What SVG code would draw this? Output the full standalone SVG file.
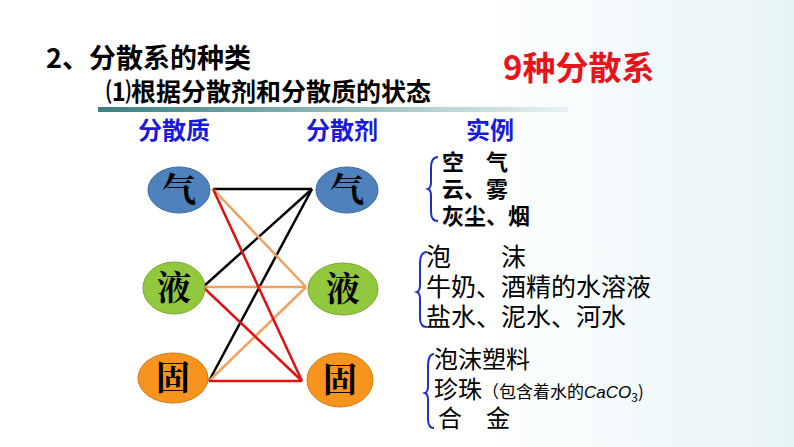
<svg xmlns="http://www.w3.org/2000/svg" width="794" height="447" viewBox="0 0 794 447">
<style>
text{font-family:"Noto Sans CJK SC","Liberation Sans",sans-serif}
.b{font-weight:bold}
.h{fill:#1a1adc;font-weight:bold;font-size:24px}
.n{font-size:34px;font-family:"Noto Serif CJK SC","Noto Sans CJK SC",serif;font-weight:bold}
.br{fill:none;stroke:#2030c0;stroke-width:2}
.c line{stroke-width:2.5}
</style>
<defs><linearGradient id="g" x1="0" x2="1"><stop offset="0" stop-color="#3a7f80"/><stop offset="1" stop-color="#e8f2f2"/></linearGradient>
<linearGradient id="bg" x1="0" x2="1"><stop offset="0.6" stop-color="#fff"/><stop offset="1" stop-color="#e6f4f6"/></linearGradient></defs>
<rect width="794" height="447" fill="url(#bg)"/>
<text x="46" y="68" class="b" font-size="27">2、分散系的种类</text>
<text x="106" y="101" class="b" font-size="25">⑴根据分散剂和分散质的状态</text>
<rect x="98" y="107" width="470" height="5" fill="url(#g)"/>
<text x="503" y="80" class="b" font-size="33" fill="#e8141c">9种分散系</text>
<text x="138" y="139" class="h">分散质</text>
<text x="306" y="139" class="h">分散剂</text>
<text x="466" y="139" class="h">实例</text>
<g class="c" id="connectors">
<line x1="213" y1="189" x2="312" y2="189" stroke="#000"/>
<line x1="203" y1="287" x2="312" y2="189" stroke="#000"/>
<line x1="209" y1="381" x2="312" y2="189" stroke="#000"/>
<line x1="213" y1="189" x2="306" y2="287" stroke="#f0a060"/>
<line x1="203" y1="287" x2="306" y2="287" stroke="#f0a060"/>
<line x1="209" y1="381" x2="306" y2="287" stroke="#f0a060"/>
<line x1="213" y1="189" x2="302" y2="381" stroke="#e01010"/>
<line x1="203" y1="287" x2="302" y2="381" stroke="#e01010"/>
<line x1="209" y1="381" x2="302" y2="381" stroke="#e01010"/>
</g>
<g id="l-gas"><ellipse cx="179" cy="190" rx="31" ry="23" fill="#4f81bd" stroke="#3a6a9e"/><text x="179" y="202" class="n" text-anchor="middle">气</text></g>
<g id="l-liq"><ellipse cx="174" cy="288" rx="31" ry="26" fill="#92c83e" stroke="#7aa830"/><text x="174" y="300" class="n" text-anchor="middle">液</text></g>
<g id="l-sol"><ellipse cx="173" cy="378" rx="35" ry="25" fill="#f7941d" stroke="#d07810"/><text x="173" y="390" class="n" text-anchor="middle">固</text></g>
<g id="r-gas"><ellipse cx="347" cy="190" rx="31" ry="23" fill="#4f81bd" stroke="#3a6a9e"/><text x="347" y="202" class="n" text-anchor="middle">气</text></g>
<g id="r-liq"><ellipse cx="343" cy="289" rx="35" ry="26" fill="#92c83e" stroke="#7aa830"/><text x="343" y="301" class="n" text-anchor="middle">液</text></g>
<g id="r-sol"><ellipse cx="340" cy="380" rx="33" ry="27" fill="#f7941d" stroke="#d07810"/><text x="340" y="392" class="n" text-anchor="middle">固</text></g>
<g id="ex1" class="b">
<path class="br" d="M438,157 Q431,157 431,168 L431,182 Q431,188 428,189 Q431,190 431,196 L431,212 Q431,221 438,221"/>
<text x="442" y="170" font-size="22">空　气</text>
<text x="442" y="197" font-size="22">云、雾</text>
<text x="442" y="224" font-size="22">灰尘、烟</text>
</g>
<g id="ex2">
<path class="br" d="M427,252 Q420,252 420,264 L420,285 Q420,291 417,292 Q420,293 420,299 L420,318 Q420,327 427,327"/>
<text x="426" y="266" font-size="25">泡　　沫</text>
<text x="426" y="296" font-size="25">牛奶、酒精的水溶液</text>
<text x="426" y="326" font-size="25">盐水、泥水、河水</text>
</g>
<g id="ex3">
<path class="br" d="M434,354 Q428,354 428,367 L428,386 Q428,392 425,393 Q428,394 428,400 L428,419 Q428,428 434,428"/>
<text x="434" y="368" font-size="24">泡沫塑料</text>
<text x="434" y="398" font-size="24">珍珠<tspan font-size="17">（包含着水的<tspan font-style="italic" font-family="Liberation Sans">CaCO</tspan><tspan font-size="12" dy="4">3</tspan><tspan dy="-4">)</tspan></tspan></text>
<text x="438" y="427" font-size="24">合　金</text>
</g>
</svg>
